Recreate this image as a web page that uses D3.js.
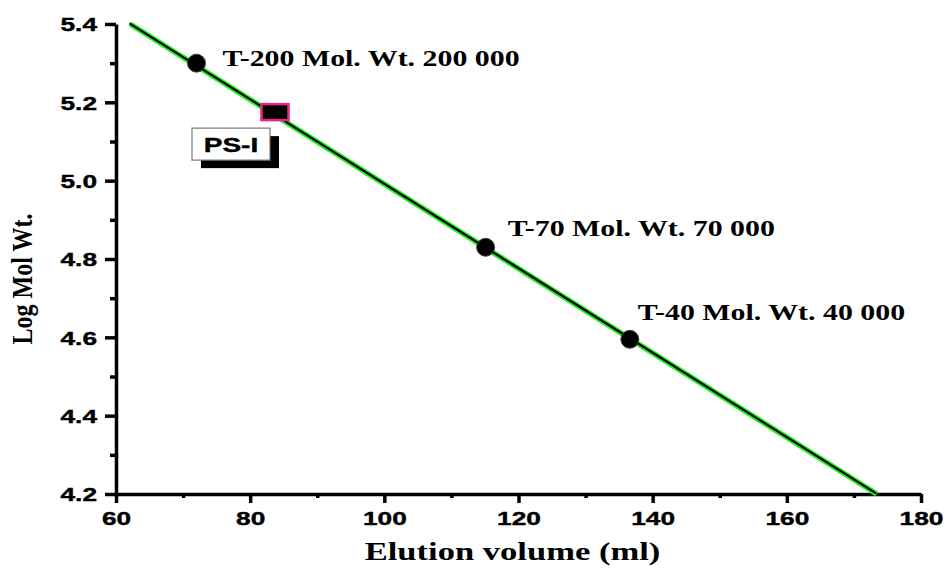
<!DOCTYPE html>
<html lang="en">
<head>
    <meta charset="UTF-8">
    <title>Calibration - Log Mol Wt vs Elution volume</title>
    <script src="https://d3js.org/d3.v7.min.js"></script>
    <style>
        body { margin: 0; background: #ffffff; }
        .tick text { font-family: "Liberation Sans", Arial, sans-serif; font-weight: bold; stroke: #000; stroke-width: 0.4px; }
        .serif { font-family: "Liberation Serif", "Times New Roman", serif; font-weight: bold; }
    </style>
</head>
<body>
<svg id="chart" width="946" height="569"></svg>
<script>
    // standards (dextran T-series)
    const stdNames = ["T-200 Mol. Wt. 200 000", "T-70 Mol. Wt. 70 000", "T-40 Mol. Wt. 40 000"];
    const stdVolume = [72, 115.1, 136.6];
    const stdLogMw = [5.30, 4.83, 4.595];

    // sample
    const sampleName = "PS-I";
    const sampleVolume = [83.7];
    const sampleLogMw = [5.175];

    // fitted line end points
    const fitVolume = [62.1, 173.4];
    const fitLogMw = [5.4, 4.2];

    const xTicks = [60, 80, 100, 120, 140, 160, 180];
    const xMinor = [70, 90, 110, 130, 150, 170];
    const yTicks = [4.2, 4.4, 4.6, 4.8, 5.0, 5.2, 5.4];
    const yMinor = [4.3, 4.5, 4.7, 4.9, 5.1, 5.3];

    const width = 946;
    const height = 569;
    const margin = {top: 24, right: 25, bottom: 75, left: 116};

    const svg = d3.select("#chart");

    const x = d3.scaleLinear().domain([60, 180]).range([margin.left, width - margin.right]);
    const y = d3.scaleLinear().domain([4.2, 5.4]).range([height - margin.bottom, margin.top]);

    // minor ticks first, then major axes on top
    svg.append("g")
        .attr("transform", `translate(0,${height - margin.bottom})`)
        .call(d3.axisBottom(x).tickValues(xMinor).tickSize(4).tickFormat(""))
        .call(g => g.select(".domain").remove())
        .selectAll("line").attr("stroke-width", 3.5);

    svg.append("g")
        .attr("transform", `translate(${margin.left},0)`)
        .call(d3.axisLeft(y).tickValues(yMinor).tickSize(6).tickFormat(""))
        .call(g => g.select(".domain").remove())
        .selectAll("line").attr("stroke-width", 3.5);

    const xAxis = svg.append("g")
        .attr("transform", `translate(0,${height - margin.bottom})`)
        .call(d3.axisBottom(x).tickValues(xTicks).tickSizeInner(9).tickSizeOuter(0).tickPadding(6));
    xAxis.select(".domain").attr("stroke-width", 3.5);
    xAxis.selectAll(".tick line").attr("stroke-width", 3.5);
    xAxis.selectAll(".tick text")
        .attr("font-size", 18.5)
        .attr("fill", "#000")
        .attr("dy", null)
        .attr("y", 31)
        .attr("transform", "scale(1.42,1)")
        .attr("x", 0);

    const yAxis = svg.append("g")
        .attr("transform", `translate(${margin.left},0)`)
        .call(d3.axisLeft(y).tickValues(yTicks).tickFormat(d3.format(".1f")).tickSizeInner(11).tickSizeOuter(0));
    yAxis.select(".domain").attr("stroke-width", 3.5);
    yAxis.selectAll(".tick line").attr("stroke-width", 3.5);
    yAxis.selectAll(".tick text")
        .attr("font-size", 18.5)
        .attr("fill", "#000")
        .attr("x", 0)
        .attr("dy", "0.36em")
        .attr("transform", "translate(-19,0) scale(1.42,1)");

    // fitted line: green halo with black core
    const line = d3.line().x(d => x(d[0])).y(d => y(d[1]));
    const fitData = d3.zip(fitVolume, fitLogMw);
    svg.append("path").datum(fitData).attr("d", line)
        .attr("fill", "none").attr("stroke", "#1ef01e").attr("stroke-width", 5.5);
    svg.append("path").datum(fitData).attr("d", line)
        .attr("fill", "none").attr("stroke", "#000").attr("stroke-width", 2.2)
        .attr("transform", "translate(-0.6,-0.6)");

    // standards
    const stds = d3.range(stdNames.length).map(i => ({name: stdNames[i], v: stdVolume[i], m: stdLogMw[i]}));
    svg.selectAll(".std")
        .data(stds)
        .enter()
        .append("circle")
        .attr("class", "std")
        .attr("cx", d => x(d.v))
        .attr("cy", d => y(d.m))
        .attr("r", 9)
        .attr("fill", "#000")
        .attr("stroke", "#444")
        .attr("stroke-width", 1);

    // standard labels, placed to the right of each point
    const labelOffset = [[26, 3], [22, -11], [8, -19]];
    svg.selectAll(".std-label")
        .data(stds)
        .enter()
        .append("text")
        .attr("class", "serif std-label")
        .attr("font-size", 23)
        .attr("transform", (d, i) => `translate(${x(d.v) + labelOffset[i][0]},${y(d.m) + labelOffset[i][1]}) scale(1.3,1)`)
        .text(d => d.name);

    // sample marker
    svg.selectAll(".sample")
        .data(sampleVolume)
        .enter()
        .append("rect")
        .attr("class", "sample")
        .attr("x", (d, i) => x(d) - 13.5)
        .attr("y", (d, i) => y(sampleLogMw[i]) - 8)
        .attr("width", 27)
        .attr("height", 16)
        .attr("fill", "#000")
        .attr("stroke", "#f0208a")
        .attr("stroke-width", 2.5);

    // sample label box with drop shadow
    const bx = x(sampleVolume[0]) - 83, by = y(sampleLogMw[0]) + 16;
    svg.append("rect").attr("x", bx + 9).attr("y", by + 8).attr("width", 78).attr("height", 32).attr("fill", "#000");
    svg.append("rect").attr("x", bx).attr("y", by).attr("width", 78).attr("height", 32)
        .attr("fill", "#fff").attr("stroke", "#777").attr("stroke-width", 1.2);
    svg.append("text")
        .attr("transform", `translate(${bx + 39},${by + 24}) scale(1.4,1)`)
        .attr("text-anchor", "middle")
        .attr("font-family", "Liberation Sans, Arial, sans-serif")
        .attr("font-weight", "bold")
        .attr("font-size", 20)
        .attr("stroke", "#000")
        .attr("stroke-width", 0.4)
        .text(sampleName);

    // axis titles
    svg.append("text")
        .attr("class", "serif")
        .attr("font-size", 26)
        .attr("text-anchor", "middle")
        .attr("transform", `translate(${(margin.left + width - margin.right) / 2 - 6},560) scale(1.33,1)`)
        .text("Elution volume (ml)");

    svg.append("text")
        .attr("class", "serif")
        .attr("font-size", 24)
        .attr("text-anchor", "middle")
        .attr("transform", "translate(32,279) scale(1.2,1) rotate(-90)")
        .text("Log Mol Wt.");
</script>
</body>
</html>
